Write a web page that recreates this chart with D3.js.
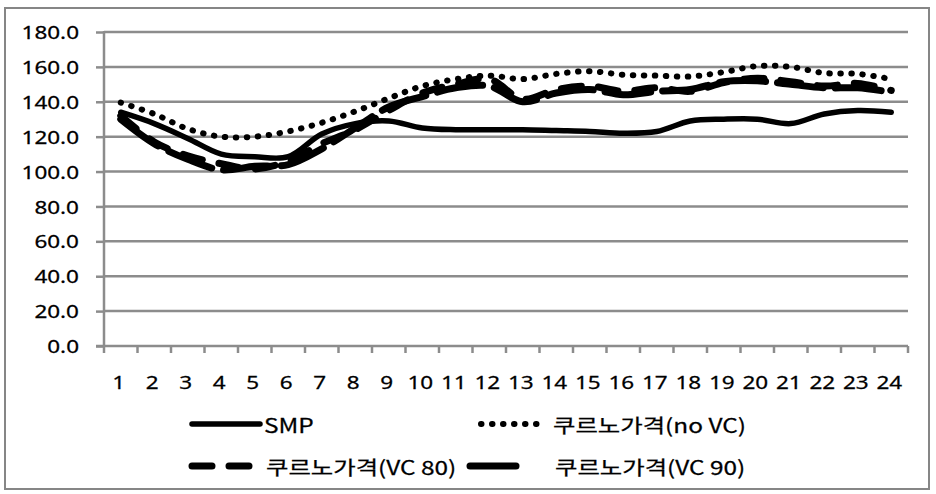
<!DOCTYPE html>
<html>
<head>
<meta charset="utf-8">
<script src="https://cdn.jsdelivr.net/npm/d3@7"></script>
<style>
  html, body { margin: 0; padding: 0; background: #fff; }
  svg { display: block; }
  text { font-family: "Noto Sans", "Noto Sans CJK KR", sans-serif; fill: #000; }
  .kr { font-family: "Noto Sans CJK KR", "Noto Sans", sans-serif; }
</style>
</head>
<body>
<svg id="chart" width="936" height="494"></svg>
<script>
// Hourly prices (1–24h)
const hours = d3.range(1, 25).map(String);
const yTicks = [0, 20, 40, 60, 80, 100, 120, 140, 160, 180];

const smp   = [134, 127.5, 119, 110, 108.5, 108.5, 121.5, 127.5, 129, 125, 124, 124, 124, 123.5, 123, 122, 123, 129, 130, 130, 127.5, 133, 135, 134];
const noVC  = [139.5, 133, 124.5, 120, 120, 123, 128, 134.5, 142, 149, 153, 155, 153, 156, 157.5, 155.5, 155, 154.5, 157, 160.5, 160, 156.5, 156, 153];
const vc80  = [132, 117, 109, 104.5, 101.5, 106, 116, 124, 135, 145, 150, 153, 141.5, 147, 149, 146, 148, 146, 151, 153.5, 151.5, 149, 150.5, 146.5];
const vc90  = [130, 116, 107, 101, 103, 104, 113, 125, 137, 143, 148, 149, 140, 145, 147, 144, 146, 147, 151.5, 152, 150, 148, 148, 145.5];

const seriesNames = ["SMP", "쿠르노가격(no VC)", "쿠르노가격(VC 80)", "쿠르노가격(VC 90)"];

const styles = [
  { width: 5.5, dash: null,      cap: "round" },
  { width: 6,   dash: "0.5 10.5", cap: "round" },
  { width: 7,   dash: "20 17",   cap: "round" },
  { width: 7,   dash: "46 12",   cap: "round" }
];
const series = [smp, noVC, vc80, vc90].map((values, i) => ({ name: seriesNames[i], values, style: styles[i] }));

const svg = d3.select("#chart");
const plot = { left: 104, right: 908, top: 32, bottom: 346 };
const STRETCH = 1.25;
const GRID = "#8c8c8c";

// outer frame
svg.append("rect")
  .attr("x", 5).attr("y", 8).attr("width", 924).attr("height", 481)
  .attr("fill", "#fff").attr("stroke", "#868686").attr("stroke-width", 2);

const x = d3.scaleBand().domain(hours).range([plot.left, plot.right]);
const y = d3.scaleLinear().domain([0, 180]).range([plot.bottom, plot.top]);

function label(g, tx, ty, str, anchor, size, cls) {
  return g.append("text")
    .attr("class", cls || null)
    .attr("transform", `translate(${tx},${ty}) scale(${STRETCH},1)`)
    .attr("text-anchor", anchor)
    .attr("dominant-baseline", "central")
    .attr("font-size", size)
    .attr("stroke", "#000").attr("stroke-width", 0.25)
    .text(str);
}

// horizontal gridlines
svg.append("g").selectAll("line").data(yTicks.filter(d => d > 0)).join("line")
  .attr("x1", plot.left).attr("x2", plot.right)
  .attr("y1", d => y(d)).attr("y2", d => y(d))
  .attr("stroke", GRID).attr("stroke-width", 2.5);

// y axis
const yAxis = svg.append("g")
  .attr("transform", `translate(${plot.left},0)`)
  .call(d3.axisLeft(y).tickValues(yTicks).tickSize(8).tickFormat(""));
yAxis.select(".domain").attr("stroke", GRID).attr("stroke-width", 2.5).attr("d", `M0,${plot.top - 1}V${plot.bottom}`);
yAxis.selectAll(".tick line").attr("stroke", GRID).attr("stroke-width", 2.5);
const yl = svg.append("g");
yTicks.forEach(t => label(yl, 79, y(t), d3.format(".1f")(t), "end", 18));

// x axis (ticks between categories)
const xAxis = svg.append("g")
  .attr("transform", `translate(0,${plot.bottom})`)
  .call(d3.axisBottom(x).tickSize(0).tickFormat(""));
xAxis.select(".domain").attr("stroke", GRID).attr("stroke-width", 2.5).attr("d", `M${plot.left - 8},0H${plot.right}`);
xAxis.selectAll(".tick").remove();
const edges = hours.map(h => x(h)).concat([plot.right]);
svg.append("g").selectAll("line").data(edges).join("line")
  .attr("x1", d => d).attr("x2", d => d)
  .attr("y1", plot.bottom).attr("y2", plot.bottom + 7)
  .attr("stroke", GRID).attr("stroke-width", 2.5);
const xl = svg.append("g");
hours.forEach(h => label(xl, x(h) + x.bandwidth() / 2 - 2, 382, h, "middle", 18));

// series lines
const line = d3.line()
  .x((d, i) => x(hours[i]) + x.bandwidth() / 2)
  .y(d => y(d))
  .curve(d3.curveCatmullRom.alpha(0.5));

svg.append("g").selectAll("path").data(series).join("path")
  .attr("d", d => line(d.values))
  .attr("fill", "none")
  .attr("stroke", "#000")
  .attr("stroke-width", d => d.style.width)
  .attr("stroke-dasharray", d => d.style.dash)
  .attr("stroke-linecap", d => d.style.cap)
  .attr("stroke-linejoin", "round");

// legend
const legendItems = [
  { s: series[0], x1: 192, x2: 260, y: 424, tx: 264 },
  { s: series[1], x1: 481, x2: 543, y: 424, tx: 553 },
  { s: series[2], x1: 192, x2: 257, y: 466, tx: 266 },
  { s: series[3], x1: 470, x2: 524, y: 466, tx: 555 }
];
const lg = svg.append("g");
legendItems.forEach(it => {
  lg.append("line")
    .attr("x1", it.x1).attr("x2", it.x2).attr("y1", it.y).attr("y2", it.y)
    .attr("stroke", "#000")
    .attr("stroke-width", it.s.style.width)
    .attr("stroke-dasharray", it.s.style.dash)
    .attr("stroke-linecap", it.s.style.cap);
  label(lg, it.tx, it.y, it.s.name, "start", 19.5, "kr");
});
</script>
</body>
</html>
